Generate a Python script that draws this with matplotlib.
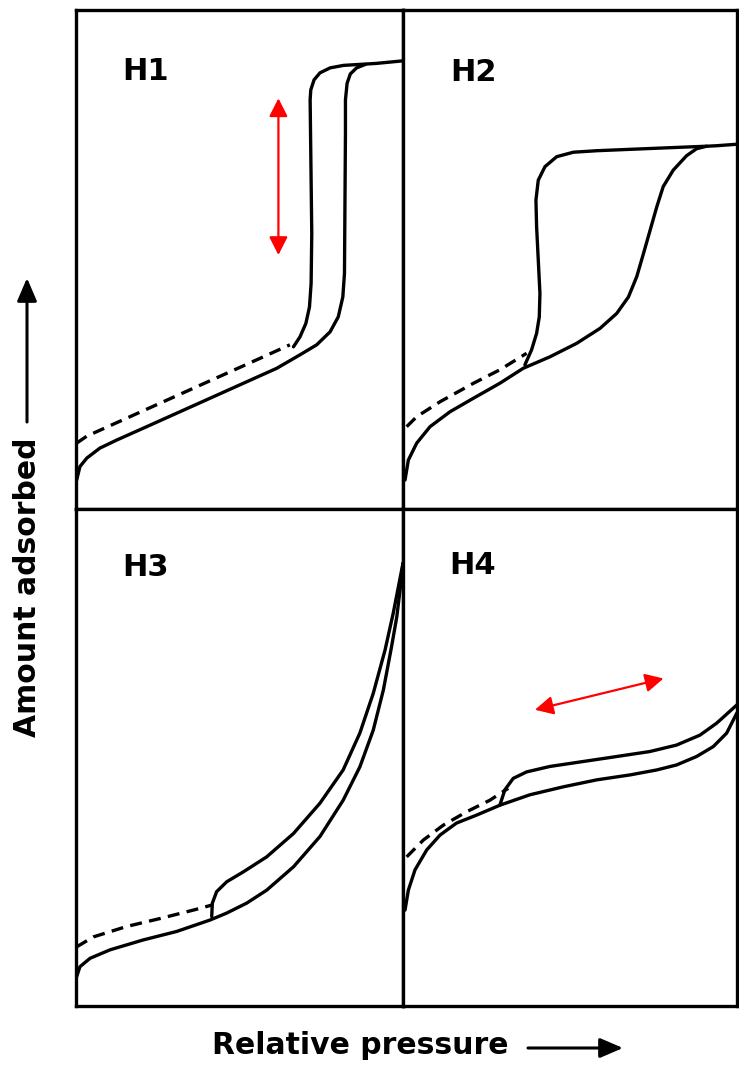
import numpy as np
import matplotlib
matplotlib.use("Agg")
import matplotlib.pyplot as plt
from matplotlib.patches import FancyArrowPatch

# IUPAC hysteresis loop types (relative units 0..1)
# H1
h1_ads_x = [0.002, 0.012, 0.033, 0.073, 0.124, 0.206, 0.308, 0.410, 0.512, 0.614, 0.685, 0.736, 0.777,
            0.802, 0.816, 0.821, 0.824, 0.824, 0.829, 0.839, 0.858, 0.885]
h1_ads_y = [0.058, 0.085, 0.102, 0.122, 0.138, 0.162, 0.192, 0.222, 0.252, 0.282, 0.309, 0.329, 0.355,
            0.385, 0.425, 0.472, 0.753, 0.820, 0.853, 0.872, 0.884, 0.891]
h1_des_x = [0.665, 0.685, 0.703, 0.714, 0.719, 0.721, 0.716, 0.718, 0.728, 0.746, 0.777, 0.818, 0.919, 0.998]
h1_des_y = [0.325, 0.345, 0.372, 0.405, 0.452, 0.552, 0.820, 0.840, 0.860, 0.874, 0.884, 0.889, 0.893, 0.898]
h1_dash_x = [0.002, 0.033, 0.155, 0.359, 0.563, 0.654]
h1_dash_y = [0.132, 0.146, 0.182, 0.242, 0.302, 0.329]

# H2
h2_ads_x = [0.006, 0.016, 0.041, 0.081, 0.141, 0.211, 0.290, 0.360, 0.440, 0.520, 0.590, 0.640, 0.675,
            0.700, 0.720, 0.740, 0.760, 0.779, 0.809, 0.849, 0.879, 0.909, 0.939, 1.0]
h2_ads_y = [0.058, 0.098, 0.132, 0.165, 0.195, 0.222, 0.252, 0.282, 0.305, 0.332, 0.362, 0.392, 0.425,
            0.466, 0.512, 0.559, 0.606, 0.646, 0.679, 0.708, 0.722, 0.727, 0.728, 0.731]
h2_des_x = [0.365, 0.385, 0.400, 0.408, 0.410, 0.405, 0.400, 0.398, 0.405, 0.425, 0.460, 0.510, 0.580,
            0.760, 0.909]
h2_des_y = [0.289, 0.319, 0.352, 0.385, 0.432, 0.499, 0.566, 0.619, 0.659, 0.686, 0.706, 0.715, 0.718,
            0.723, 0.727]
h2_dash_x = [0.011, 0.041, 0.111, 0.211, 0.290, 0.370]
h2_dash_y = [0.165, 0.185, 0.215, 0.252, 0.279, 0.312]

# H3
h3_ads_x = [0.002, 0.012, 0.043, 0.104, 0.206, 0.308, 0.410, 0.461, 0.522, 0.583, 0.665, 0.746, 0.817,
            0.868, 0.909, 0.940, 0.965, 0.981, 0.991, 1.0]
h3_ads_y = [0.059, 0.079, 0.096, 0.113, 0.133, 0.150, 0.173, 0.187, 0.207, 0.233, 0.280, 0.341, 0.414,
            0.481, 0.555, 0.636, 0.723, 0.783, 0.837, 0.891]
h3_des_x = [0.415, 0.417, 0.430, 0.461, 0.512, 0.583, 0.665, 0.746, 0.817, 0.868, 0.909, 0.945, 0.970, 1.0]
h3_des_y = [0.180, 0.207, 0.230, 0.250, 0.270, 0.300, 0.347, 0.408, 0.475, 0.549, 0.629, 0.716, 0.790, 0.891]
h3_dash_x = [0.002, 0.053, 0.155, 0.257, 0.359, 0.415]
h3_dash_y = [0.119, 0.139, 0.160, 0.176, 0.193, 0.203]

# H4
h4_ads_x = [0.006, 0.016, 0.036, 0.071, 0.111, 0.160, 0.220, 0.290, 0.380, 0.480, 0.580, 0.680, 0.760,
            0.819, 0.879, 0.929, 0.969, 1.0]
h4_ads_y = [0.193, 0.233, 0.274, 0.314, 0.344, 0.368, 0.384, 0.404, 0.425, 0.441, 0.455, 0.465, 0.475,
            0.485, 0.502, 0.522, 0.549, 0.590]
h4_des_x = [0.290, 0.305, 0.330, 0.370, 0.440, 0.540, 0.640, 0.739, 0.819, 0.889, 0.939, 1.0]
h4_des_y = [0.404, 0.435, 0.458, 0.471, 0.482, 0.492, 0.502, 0.512, 0.525, 0.545, 0.569, 0.606]
h4_dash_x = [0.011, 0.061, 0.121, 0.191, 0.260, 0.315]
h4_dash_y = [0.300, 0.334, 0.364, 0.391, 0.414, 0.438]

labels = ["H1", "H2", "H3", "H4"]
label_pos = [(0.141, 0.876), (0.141, 0.874), (0.141, 0.883), (0.138, 0.887)]

# red arrows (start, end) in panel units
h1_arrow = [(0.619, 0.509), (0.619, 0.823)]
h4_arrow = [(0.395, 0.596), (0.780, 0.659)]

W, H = 739, 1068
fig = plt.figure(figsize=(W / 100, H / 100), dpi=100)

xs = [76, 403, 737]
ys = [10, 509, 1006]
boxes = [(0, 0), (1, 0), (0, 1), (1, 1)]

panels = [
    (h1_ads_x, h1_ads_y, h1_des_x, h1_des_y, h1_dash_x, h1_dash_y),
    (h2_ads_x, h2_ads_y, h2_des_x, h2_des_y, h2_dash_x, h2_dash_y),
    (h3_ads_x, h3_ads_y, h3_des_x, h3_des_y, h3_dash_x, h3_dash_y),
    (h4_ads_x, h4_ads_y, h4_des_x, h4_des_y, h4_dash_x, h4_dash_y),
]

lw = 2.4
axes = []
for i, (c, r) in enumerate(boxes):
    left = xs[c] / W
    width = (xs[c + 1] - xs[c]) / W
    bottom = (H - ys[r + 1]) / H
    height = (ys[r + 1] - ys[r]) / H
    ax = fig.add_axes([left, bottom, width, height])
    ax.set_xlim(0, 1)
    ax.set_ylim(0, 1)
    ax.set_xticks([])
    ax.set_yticks([])
    for s in ax.spines.values():
        s.set_linewidth(lw)
    ax_x, ax_y, de_x, de_y, da_x, da_y = panels[i]
    ax.plot(ax_x, ax_y, color="black", lw=lw, solid_joinstyle="round", solid_capstyle="round")
    ax.plot(de_x, de_y, color="black", lw=lw, solid_joinstyle="round", solid_capstyle="round")
    ax.plot(da_x, da_y, color="black", lw=lw, dashes=(3.6, 2.2))
    lx, ly = label_pos[i]
    ax.text(lx, ly, labels[i], fontsize=22, fontweight="bold", ha="left", va="center")
    axes.append(ax)

for ax, (p0, p1) in [(axes[0], h1_arrow), (axes[3], h4_arrow)]:
    ax.annotate("", xy=p1, xytext=p0,
                arrowprops=dict(arrowstyle="<|-|>,head_length=0.55,head_width=0.28",
                                mutation_scale=20, color="red", lw=1.6,
                                shrinkA=0, shrinkB=0))

# axis titles with arrows
fig.text(28 / W, (H - 587) / H, "Amount adsorbed", rotation=90, fontsize=21.5,
         fontweight="bold", ha="center", va="center")
fig.text(360 / W, (H - 1046) / H, "Relative pressure", fontsize=21.5,
         fontweight="bold", ha="center", va="center")
fig.add_artist(FancyArrowPatch(
    (27 / W, (H - 422) / H), (27 / W, (H - 278) / H), transform=fig.transFigure,
    arrowstyle="-|>,head_length=0.7,head_width=0.3", mutation_scale=20,
    color="black", lw=2.2, shrinkA=0, shrinkB=0))
fig.add_artist(FancyArrowPatch(
    (528 / W, (H - 1048) / H), (623 / W, (H - 1048) / H), transform=fig.transFigure,
    arrowstyle="-|>,head_length=0.7,head_width=0.3", mutation_scale=20,
    color="black", lw=2.2, shrinkA=0, shrinkB=0))

fig.savefig("out.png", dpi=100)
